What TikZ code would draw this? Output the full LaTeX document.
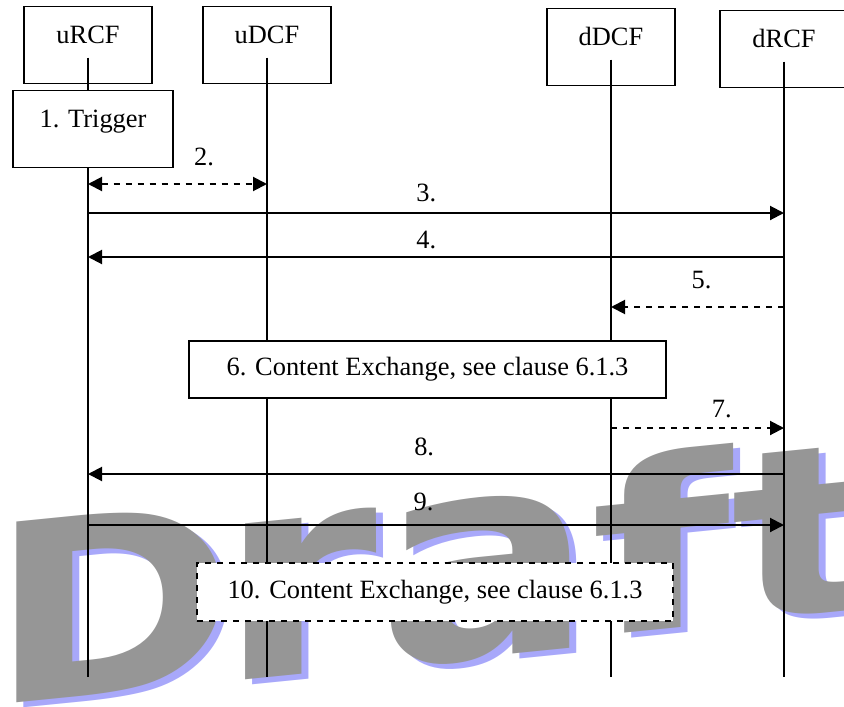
\documentclass[tikz,border=0pt]{standalone}
\usepackage{fontspec}
\setmainfont{Liberation Serif}
\newfontfamily\draftfont{DejaVu Sans}
\usetikzlibrary{shapes,arrows,arrows.meta}
\definecolor{wmgray}{RGB}{150,150,150}
\definecolor{wmblue}{RGB}{168,168,250}
\tikzstyle{entity} = [rectangle, draw, line width=0.7pt, minimum width=64pt,
inner xsep=2pt, inner ysep=5pt, text height=13.5pt, text depth=15pt]
\tikzstyle{proc} = [rectangle, draw, fill=white, line width=0.7pt,
minimum height=28.5pt]
\tikzstyle{line} = [draw, line width=1pt, ->]
\tikzstyle{lifeline} = [draw, line width=0.8pt]
\tikzstyle{lbl} = [inner sep=0pt]
\tikzstyle{watermark} = [inner sep=0pt, anchor=base west, yslant=0.1,
font=\draftfont\bfseries\fontsize{124}{124}\selectfont]

\begin{document}
\begin{tikzpicture}[x=0.5pt, y=-0.5pt, >={Triangle[length=7pt,width=7pt]},
	font=\fontsize{13.2}{15}\selectfont]
	\useasboundingbox (0,0) rectangle (844,706);
	\clip (0,0) rectangle (844,706);
	% Watermark, shadow first
	\node [watermark, text=wmblue, xscale=1.2] (shD) at (-4,711) {D};
	\node [watermark, text=wmblue, xscale=1.3, yscale=1.15] (shRa) at (225,688) {ra};
	\node [watermark, text=wmblue, xscale=1.3, yscale=0.95] (shFt) at (597,642) {ft};
	\node [watermark, text=wmgray, xscale=1.2] (wmD) at (-11,706) {D};
	\node [watermark, text=wmgray, xscale=1.3, yscale=1.15] (wmRa) at (218,683) {ra};
	\node [watermark, text=wmgray, xscale=1.3, yscale=0.95] (wmFt) at (590,637) {ft};

	% Place nodes
	\node [entity, anchor=north] (uRCF) at (88,6) {uRCF};
	\node [entity, anchor=north] (uDCF) at (267,6) {uDCF};
	\node [entity, anchor=north] (dDCF) at (611,8) {dDCF};
	\node [entity, anchor=north] (dRCF) at (784,10) {dRCF};

	\coordinate (bottom) at (0,677);
	\coordinate (m2) at (0,184);
	\coordinate (m3) at (0,213);
	\coordinate (m4) at (0,257);
	\coordinate (m5) at (0,307);
	\coordinate (m7) at (0,428);
	\coordinate (m8) at (0,474);
	\coordinate (m9) at (0,525);

	% Lifelines
	\path [lifeline] ([yshift=-7pt]uRCF.base) -- (uRCF |- bottom);
	\path [lifeline] ([yshift=-7pt]uDCF.base) -- (uDCF |- bottom);
	\path [lifeline] ([yshift=-7pt]dDCF.base) -- (dDCF |- bottom);
	\path [lifeline] ([yshift=-7pt]dRCF.base) -- (dRCF |- bottom);

	% Messages
	\path [line, dashed, <->] (uRCF |- m2) -- node [lbl, pos=0.648, above=8.5pt] (l2) {2.} (uDCF |- m2);
	\path [line] (uRCF |- m3) -- node [lbl, pos=0.486, above=5pt] (l3) {3.} (dRCF |- m3);
	\path [line] (dRCF |- m4) -- node [lbl, pos=0.514, above=3.5pt] (l4) {4.} (uRCF |- m4);
	\path [line, dashed] (dRCF |- m5) -- node [lbl, pos=0.477, above=8.5pt] (l5) {5.} (dDCF |- m5);
	\path [line, dashed] (dDCF |- m7) -- node [lbl, pos=0.64, above=4.5pt] (l7) {7.} (dRCF |- m7);
	\path [line] (dRCF |- m8) -- node [lbl, pos=0.517, above=8.5pt] (l8) {8.} (uRCF |- m8);
	\path [line] (uRCF |- m9) -- node [lbl, pos=0.482, above=6.5pt] (l9) {9.} (dRCF |- m9);

	% Boxes on the lifelines
	\node [entity, anchor=north, minimum width=80pt, fill=white] (trigger) at (93,90) {1. Trigger};
	\node [proc, minimum width=238.5pt] (cx1) at (427.5,369.5) {6. Content Exchange, see clause 6.1.3};
	\node [proc, dashed, minimum width=238pt, minimum height=29pt] (cx2) at (435,592) {10. Content Exchange, see clause 6.1.3};
\end{tikzpicture}
\end{document}
